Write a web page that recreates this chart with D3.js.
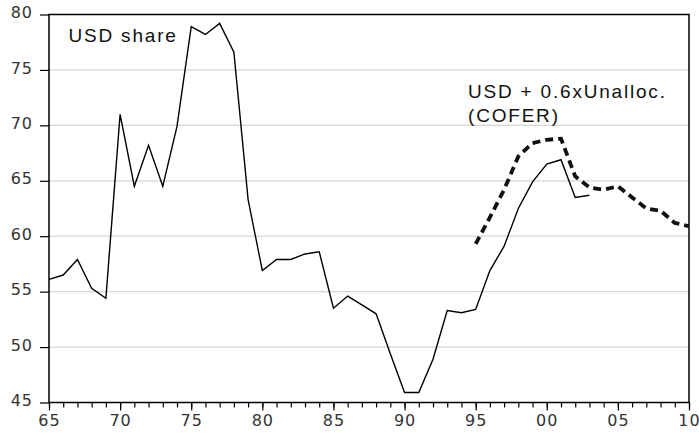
<!DOCTYPE html>
<html>
<head>
<meta charset="utf-8">
<script src="https://cdn.jsdelivr.net/npm/d3@7"></script>
<style>
  body { margin: 0; background: #fff; }
  svg { display: block; }
  .tick text { font-family: "DejaVu Sans", sans-serif; font-size: 16px; fill: #333; letter-spacing: 1px; }
  .lbl { font-family: "Liberation Sans", Arial, sans-serif; font-size: 19px; fill: #111; letter-spacing: 1.8px; }
</style>
</head>
<body>
<div id="chart"></div>
<script>
////  Data
var usdYears = [1965,1966,1967,1968,1969,1970,1971,1972,1973,1974,1975,1976,1977,1978,1979,
                1980,1981,1982,1983,1984,1985,1986,1987,1988,1989,1990,1991,1992,1993,1994,
                1995,1996,1997,1998,1999,2000,2001,2002,2003];
var usdShare = [56.1,56.5,57.9,55.3,54.4,71.0,64.5,68.2,64.5,69.9,78.9,78.2,79.2,76.6,63.3,
                56.9,57.9,57.9,58.4,58.6,53.5,54.6,53.8,53.0,49.4,45.9,45.9,48.9,53.3,53.1,
                53.4,56.9,59.1,62.5,64.9,66.5,66.9,63.5,63.7];
var coferYears = [1995,1996,1997,1998,1999,2000,2001,2002,2003,2004,2005,2006,2007,2008,2009,2010];
var coferShare = [59.3,61.7,64.2,67.2,68.4,68.7,68.8,65.4,64.4,64.2,64.5,63.5,62.5,62.3,61.2,60.9];

var yTicks = [45,50,55,60,65,70,75,80];
var xMajor = [1965,1970,1975,1980,1985,1990,1995,2000,2005,2010];
var xLabels = ['65','70','75','80','85','90','95','00','05','10'];

////  Layout
var W = 699, H = 433;
var margin = {top: 14.5, right: 10, bottom: 30.5, left: 49};

var svg = d3.select("#chart")
  .append("svg")
    .attr("width", W)
    .attr("height", H);

var x = d3.scaleLinear()
  .domain([1965, 2010])
  .range([margin.left, W - margin.right]);

var y = d3.scaleLinear()
  .domain([45, 80])
  .range([H - margin.bottom, margin.top]);

// gridlines
svg.append("g")
  .selectAll("line")
  .data(yTicks.slice(1, -1))
  .enter()
  .append("line")
    .attr("x1", x(1965))
    .attr("x2", x(2010))
    .attr("y1", function(d){ return y(d); })
    .attr("y2", function(d){ return y(d); })
    .attr("stroke", "#d4d4d4")
    .attr("stroke-width", 1.2);

// frame
svg.append("rect")
  .attr("x", x(1965))
  .attr("y", y(80))
  .attr("width", x(2010) - x(1965))
  .attr("height", y(45) - y(80))
  .attr("fill", "none")
  .attr("stroke", "#000")
  .attr("stroke-width", 1.5);

// Y axis
var yAxis = d3.axisLeft(y)
  .tickValues(yTicks)
  .tickSize(9)
  .tickPadding(7);
var gy = svg.append("g")
  .attr("transform", "translate(" + x(1965) + ",0)")
  .call(yAxis);
gy.select(".domain").remove();
gy.selectAll(".tick line").attr("stroke", "#000").attr("stroke-width", 1.2);
gy.selectAll(".tick text").attr("dy", "0.2em");

// X axis: minor ticks every year, labels every 5
var xMinor = d3.axisBottom(x)
  .tickValues(d3.range(1965, 2011))
  .tickSize(5)
  .tickFormat("");
var gxm = svg.append("g")
  .attr("transform", "translate(0," + y(45) + ")")
  .call(xMinor);
gxm.select(".domain").remove();
gxm.selectAll(".tick line").attr("stroke", "#000").attr("stroke-width", 1.2);

var xAxis = d3.axisBottom(x)
  .tickValues(xMajor)
  .tickSize(8)
  .tickPadding(4)
  .tickFormat(function(d, i){ return xLabels[i]; });
var gx = svg.append("g")
  .attr("transform", "translate(0," + y(45) + ")")
  .call(xAxis);
gx.select(".domain").remove();
gx.selectAll(".tick line").attr("stroke", "#000").attr("stroke-width", 1.2);

// lines
var line = d3.line()
  .x(function(d){ return x(d[0]); })
  .y(function(d){ return y(d[1]); });

svg.append("path")
  .datum(d3.zip(usdYears, usdShare))
  .attr("fill", "none")
  .attr("stroke", "#000")
  .attr("stroke-width", 1.4)
  .attr("stroke-linejoin", "miter")
  .attr("d", line);

svg.append("path")
  .datum(d3.zip(coferYears, coferShare))
  .attr("fill", "none")
  .attr("stroke", "#111")
  .attr("stroke-width", 3.8)
  .attr("stroke-dasharray", "8,5")
  .attr("d", line);

// labels
svg.append("text")
  .attr("class", "lbl")
  .attr("x", 68.5)
  .attr("y", 41.5)
  .text("USD share");

var lab = svg.append("text")
  .attr("class", "lbl")
  .attr("x", 468)
  .attr("y", 98);
lab.append("tspan").attr("x", 468).text("USD + 0.6xUnalloc.");
lab.append("tspan").attr("x", 468).attr("dy", 24).text("(COFER)");
</script>
</body>
</html>
